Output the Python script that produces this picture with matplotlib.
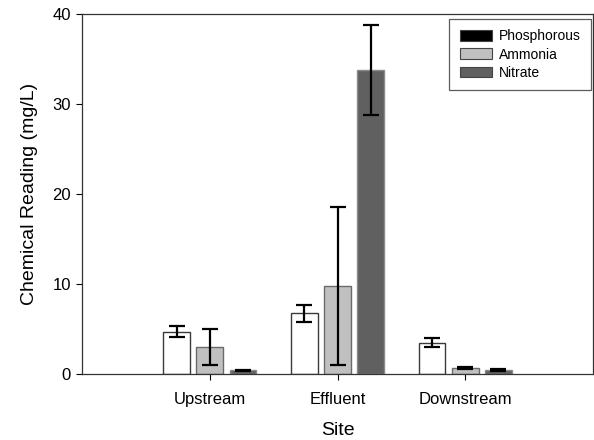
import matplotlib
matplotlib.use("Agg")
import matplotlib.pyplot as plt
from matplotlib.patches import Patch
import numpy as np

plt.rcParams['font.family'] = ['Liberation Sans', 'DejaVu Sans']

sites = ["Upstream", "Effluent", "Downstream"]
series = ["Phosphorous", "Ammonia", "Nitrate"]
phosphorous = [4.65, 6.7, 3.4]
phosphorous_err = [0.6, 0.95, 0.5]
ammonia = [3.0, 9.7, 0.63]
ammonia_err = [2.0, 8.8, 0.08]
nitrate = [0.35, 33.8, 0.4]
nitrate_err = [0.08, 5.0, 0.1]
y_ticks = [0, 10, 20, 30, 40]

values = [phosphorous, ammonia, nitrate]
errors = [phosphorous_err, ammonia_err, nitrate_err]
bar_colors = ["white", "#c0c0c0", "#606060"]
edge_colors = ["#3a3a3a", "#6a6a6a", "#8a8a8a"]
legend_colors = ["black", "#c0c0c0", "#606060"]

fig = plt.figure(figsize=(5.94, 4.40), dpi=100)
ax = fig.add_axes([82/594, 1 - 373.5/440, (593 - 82)/594, (373.5 - 14)/440])

x = np.arange(1, len(sites) + 1)
offsets = [-0.26, 0.0, 0.26]
width = 0.21
for vals, errs, col, ec, off in zip(values, errors, bar_colors, edge_colors, offsets):
    ax.bar(x + off, vals, width=width, color=col, edgecolor=ec, linewidth=1.0, zorder=2)
    ax.errorbar(x + off, vals, yerr=errs, fmt="none", ecolor="black", elinewidth=1.6,
                capsize=6.1, capthick=1.6, zorder=3)

ax.set_xlim(0, 4)
ax.set_ylim(0, 40)
ax.set_xticks(x)
ax.set_xticklabels(sites, fontsize=12)
ax.set_yticks(y_ticks)
ax.set_yticklabels([str(t) for t in y_ticks], fontsize=12)
ax.tick_params(direction="out", length=4, width=0.8, colors="black", pad=4)
ax.tick_params(axis="x", pad=9)
for s in ax.spines.values():
    s.set_linewidth(0.9)
    s.set_color("#333333")
ax.set_xlabel("Site", fontsize=14, labelpad=11)
ax.set_ylabel("Chemical Reading (mg/L)", fontsize=14, labelpad=10)

handles = [Patch(facecolor=c, edgecolor="#444444", linewidth=0.8) for c in legend_colors]
leg = ax.legend(handles, series, loc="upper right",
                bbox_to_anchor=(591/594, 1 - 19/440), bbox_transform=fig.transFigure,
                borderaxespad=0, fontsize=10, fancybox=False, frameon=True,
                handlelength=2.37, handleheight=0.8, handletextpad=0.45,
                labelspacing=0.3, borderpad=0.75)
leg.get_frame().set_edgecolor("#333333")
leg.get_frame().set_linewidth(0.9)

fig.savefig("out.png", dpi=100)
